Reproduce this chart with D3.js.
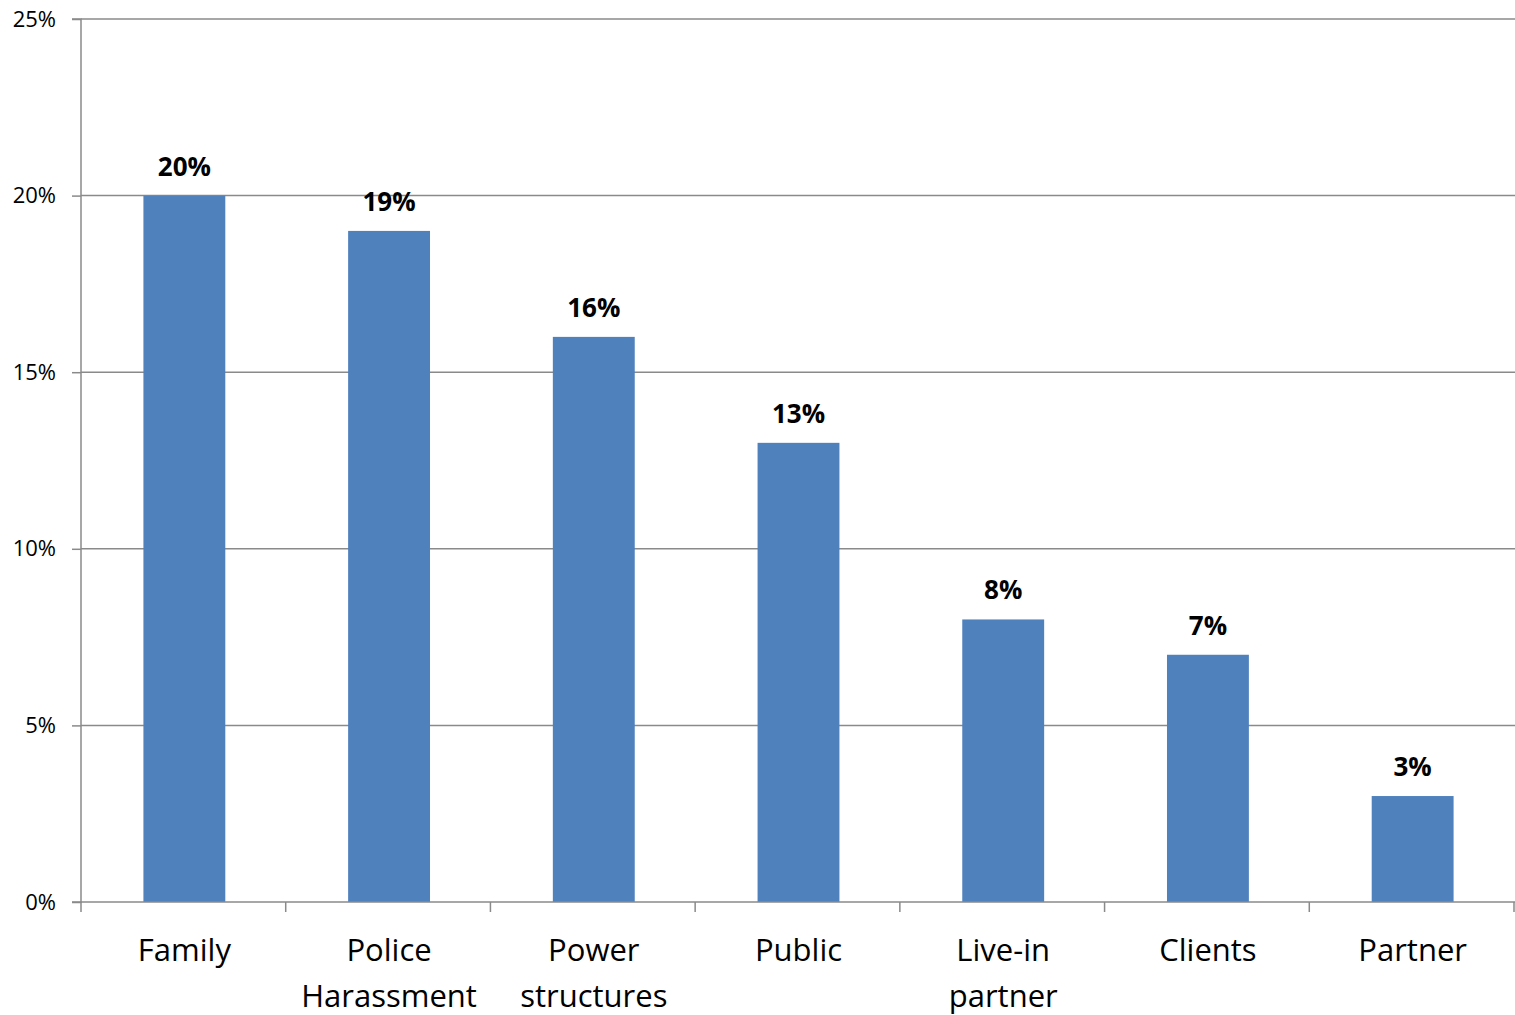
<!DOCTYPE html>
<html><head><meta charset="utf-8">
<script src="https://cdn.jsdelivr.net/npm/d3@7/dist/d3.min.js"></script>
<style>html,body{margin:0;padding:0;background:#fff;overflow:hidden}</style>
</head><body>
<svg id="c" width="1515" height="1015"></svg>
<script>
const categories = [["Family"],["Police","Harassment"],["Power","structures"],["Public"],["Live-in","partner"],["Clients"],["Partner"]];
const values = [20, 19, 16, 13, 8, 7, 3];
const yTicks = [0, 5, 10, 15, 20, 25];

const svg = d3.select("#c");
const L = 81, R = 1514, T = 19, B = 902;
const x = d3.scaleBand().domain(d3.range(categories.length)).range([L + 1, R + 1]).paddingInner(0.6).paddingOuter(0.3);
const y = d3.scaleLinear().domain([0, 25]).range([B, T]);
const font = "'Open Sans', sans-serif";
const grid = "#8a8a8a";

// gridlines
svg.append("g").selectAll("line").data(yTicks.filter(d => d > 0)).join("line")
  .attr("x1", L).attr("x2", R + 1).attr("y1", d => y(d)).attr("y2", d => y(d))
  .attr("stroke", grid).attr("stroke-width", 1.5);

// bars
svg.append("g").selectAll("rect").data(values).join("rect")
  .attr("x", (d, i) => x(i)).attr("width", x.bandwidth())
  .attr("y", d => y(d)).attr("height", d => B - y(d))
  .attr("fill", "#4F81BD");

// y axis
const yAxis = d3.axisLeft(y).tickValues(yTicks).tickFormat(d => d + "%").tickSize(9).tickPadding(16);
const gy = svg.append("g").attr("transform", `translate(${L},0)`).call(yAxis);
gy.select(".domain").attr("stroke", grid).attr("stroke-width", 1.5).attr("d", `M-9,${T}H0V${B}H-9`);
gy.selectAll(".tick line").attr("stroke", grid).attr("stroke-width", 1.5);
gy.selectAll(".tick text").attr("font-family", font).attr("font-size", 22).attr("fill", "#000");

// x axis
const xTickPos = d3.range(categories.length + 1).map(i => L + i * (R - L) / categories.length);
svg.append("line").attr("x1", L).attr("x2", R + 1).attr("y1", B).attr("y2", B).attr("stroke", grid).attr("stroke-width", 1.5);
svg.append("g").selectAll("line").data(xTickPos).join("line")
  .attr("x1", d => d).attr("x2", d => d).attr("y1", B).attr("y2", B + 10)
  .attr("stroke", grid).attr("stroke-width", 1.5);

// x labels
const xl = svg.append("g").selectAll("text").data(categories).join("text")
  .attr("font-family", font).attr("font-size", 31).attr("fill", "#000").attr("text-anchor", "middle")
  .attr("transform", (d, i) => `translate(${x(i) + x.bandwidth() / 2},0)`);
xl.selectAll("tspan").data(d => d).join("tspan").attr("x", 0).attr("y", (d, j) => 961 + j * 46).text(d => d);

// data labels
svg.append("g").selectAll("text").data(values).join("text")
  .attr("x", (d, i) => x(i) + x.bandwidth() / 2).attr("y", d => y(d) - 20)
  .attr("text-anchor", "middle").attr("font-family", font).attr("font-weight", "bold")
  .attr("font-size", 26).attr("fill", "#000").text(d => d + "%");
</script>
</body></html>
